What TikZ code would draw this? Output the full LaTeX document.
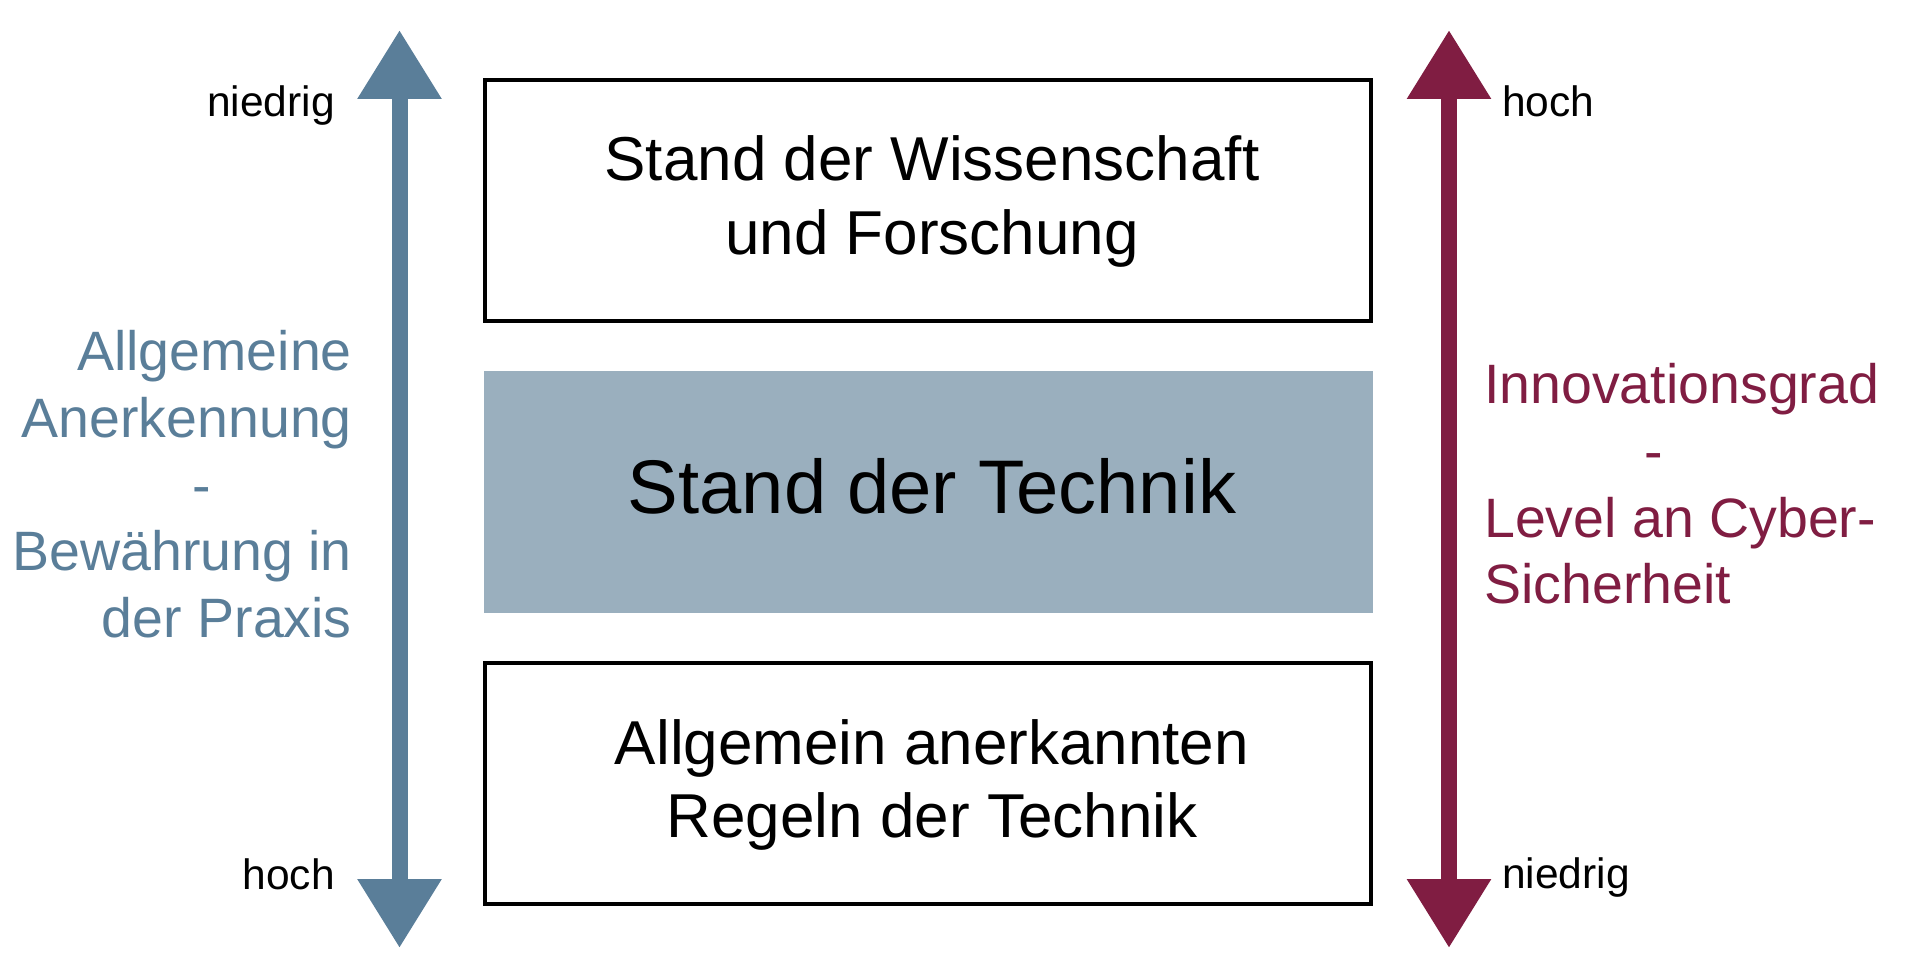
\documentclass[tikz,border=0pt]{standalone}
\usepackage{fontspec}
\setmainfont{Liberation Sans}
\usetikzlibrary{arrows.meta}
\definecolor{axblue}{HTML}{5A7E99}
\definecolor{axred}{HTML}{801D42}
\definecolor{midgray}{HTML}{9AAFBE}
\tikzset{
  framebox/.style={draw=black, line width=4.5pt},
  boxtext/.style={anchor=base, inner sep=0pt, font=\fontsize{62}{62}\selectfont},
  sidetext/.style={inner sep=0pt, font=\fontsize{55.5}{55.5}\selectfont},
  endlabel/.style={inner sep=0pt, font=\fontsize{42.5}{42.5}\selectfont},
  axis/.style={line width=16pt, {Triangle[length=69pt,width=80pt]}-{Triangle[length=69pt,width=80pt]}}
}
\begin{document}
\begin{tikzpicture}[x=1pt,y=-1pt]
\useasboundingbox (0,0) rectangle (1920,979);
% boxes
\draw[framebox] (485,80) rectangle (1371,321);
\fill[midgray] (484,371) rectangle (1373,613);
\draw[framebox] (485,663) rectangle (1371,904);
% box texts
\node[boxtext] (w1) at (932,181) {Stand der Wissenschaft};
\node[boxtext] (w2) at (932,254) {und Forschung};
\node[boxtext, font=\fontsize{76}{76}\selectfont] (t) at (932,513) {Stand der Technik};
\node[boxtext] (r1) at (932,764) {Allgemein anerkannten};
\node[boxtext] (r2) at (932,837) {Regeln der Technik};
% axes
\coordinate (lt) at (399.5,30);
\coordinate (lb) at (399.5,948);
\coordinate (rt) at (1449,30);
\coordinate (rb) at (1449,948);
\draw[axis, axblue] (lb) -- (lt);
\draw[axis, axred] (rb) -- (rt);
% end labels
\node[endlabel, anchor=base east] (ltl) at (335,117) {niedrig};
\node[endlabel, anchor=base east] (lbl) at (335,889) {hoch};
\node[endlabel, anchor=base west] (rtl) at (1502,117) {hoch};
\node[endlabel, anchor=base west] (rbl) at (1502,888) {niedrig};
% left description
\node[sidetext, axblue, anchor=base east] (a1) at (352,370) {Allgemeine};
\node[sidetext, axblue, anchor=base east] (a2) at (352,437) {Anerkennung};
\node[sidetext, axblue, anchor=base] (a3) at (201.5,504) {-};
\node[sidetext, axblue, anchor=base east] (a4) at (352,570) {Bewährung in};
\node[sidetext, axblue, anchor=base east] (a5) at (352,637) {der Praxis};
% right description
\node[sidetext, axred, anchor=base west] (b1) at (1484,403) {Innovationsgrad};
\node[sidetext, axred, anchor=base] (b2) at (1654,470) {-};
\node[sidetext, axred, anchor=base west] (b3) at (1484,537) {Level an Cyber-};
\node[sidetext, axred, anchor=base west] (b4) at (1484,603) {Sicherheit};
\end{tikzpicture}
\end{document}
